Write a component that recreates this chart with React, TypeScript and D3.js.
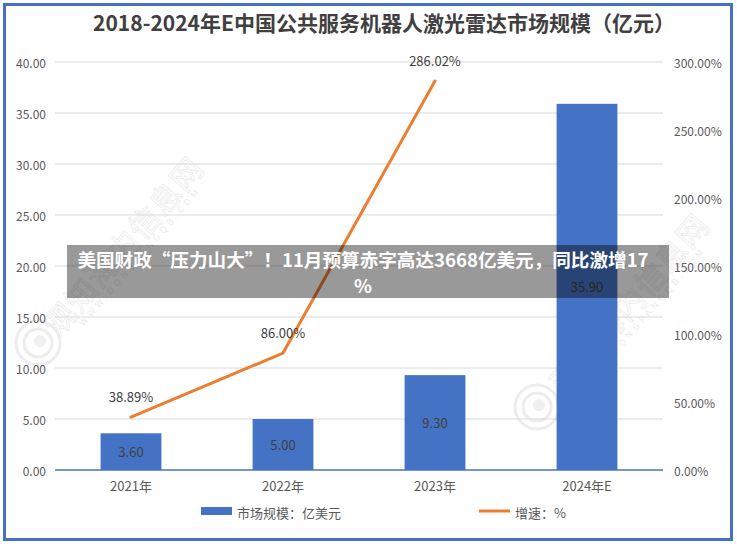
import React from 'react';
import * as d3 from 'd3';

const categories = ['2021年', '2022年', '2023年', '2024年E'];
const marketSize = [3.6, 5.0, 9.3, 35.9];
const growthCategories = ['2021年', '2022年', '2023年'];
const growthRate = [38.89, 86.0, 286.02];
const leftTicks = [0, 5, 10, 15, 20, 25, 30, 35, 40];
const rightTicks = [0, 50, 100, 150, 200, 250, 300];
const title = '2018-2024年E中国公共服务机器人激光雷达市场规模（亿元）';
const legendLabels = ['市场规模：亿美元', '增速：%'];
const bannerLines = ['美国财政“压力山大”！11月预算赤字高达3668亿美元，同比激增17', '%'];
const watermarkText = '观知海内信息网';
const watermarkUrl = 'WWW.DONGFANGQB.COM';

const W = 737;
const H = 544;
const FONT = '"Noto Sans CJK SC", "Noto Sans", sans-serif';
const BLUE = '#4472c4';
const ORANGE = '#ed7d31';
const TICK = '#595959';

export default function App() {
  const x = d3.scaleBand<string>().domain(categories).range([55, 663]).paddingInner(0.6).paddingOuter(0.3);
  const cx = (c: string) => (x(c) as number) + x.bandwidth() / 2;
  const yL = d3.scaleLinear().domain([0, 40]).range([470, 62]);
  const yR = d3.scaleLinear().domain([0, 300]).range([470, 62]);
  const line = d3
    .line<number>()
    .x((_, i) => cx(growthCategories[i]))
    .y((d) => yR(d));

  const watermarks = [
    { tx: 122, ty: 245, sx: 140, sy: 256, lx: 38, ly: 343 },
    { tx: 628, ty: 302, sx: 645, sy: 316, lx: 537, ly: 407 },
  ];

  return (
    <svg
      width={W}
      height={H}
      style={{ position: 'fixed', left: 0, top: 0, background: '#fff', fontFamily: FONT }}
    >
      <rect x={0} y={0} width={W} height={H} fill="#fff" />
      {/* watermarks */}
      {watermarks.map((w, i) => (
        <g key={'wm' + i} opacity={0.3}>
          <text
            transform={`translate(${w.tx},${w.ty}) rotate(-49)`}
            textAnchor="middle"
            dominantBaseline="central"
            fontSize={31}
            fill="none"
            stroke="#bdbdbd"
            strokeWidth={0.8}
            letterSpacing={1}
          >
            {watermarkText}
          </text>
          <text
            transform={`translate(${w.sx},${w.sy}) rotate(-49)`}
            textAnchor="middle"
            dominantBaseline="central"
            fontSize={9}
            fill="#bdbdbd"
            letterSpacing={4}
          >
            {watermarkUrl}
          </text>
          <circle cx={w.lx} cy={w.ly} r={22} fill="none" stroke="#c4c4c4" strokeWidth={3} />
          <circle cx={w.lx} cy={w.ly} r={14} fill="none" stroke="#c4c4c4" strokeWidth={3} />
          <circle cx={w.lx + 2} cy={w.ly - 2} r={6} fill="#cfcfcf" />
        </g>
      ))}

      {/* title */}
      <text x={384} y={22} textAnchor="middle" dominantBaseline="central" fontSize={21} fontWeight="bold" fill="#404040">
        {title}
      </text>

      {/* gridlines */}
      {leftTicks.map((t) =>
        t === 0 ? null : (
          <line key={'g' + t} x1={55} x2={663} y1={yL(t)} y2={yL(t)} stroke="#d9d9d9" strokeWidth={1} />
        )
      )}

      {/* left ticks */}
      {leftTicks.map((t) => (
        <text key={'l' + t} x={46} y={yL(t)} textAnchor="end" dominantBaseline="central" fontSize={12} fill={TICK}>
          {t.toFixed(2)}
        </text>
      ))}
      {/* right ticks */}
      {rightTicks.map((t) => (
        <text key={'r' + t} x={674} y={yR(t)} textAnchor="start" dominantBaseline="central" fontSize={12} fill={TICK}>
          {t.toFixed(2) + '%'}
        </text>
      ))}

      {/* bars */}
      {categories.map((c, i) => (
        <rect
          key={'b' + c}
          x={x(c)}
          y={yL(marketSize[i])}
          width={x.bandwidth()}
          height={yL(0) - yL(marketSize[i])}
          fill={BLUE}
        />
      ))}
      {categories.map((c, i) => (
        <text
          key={'bl' + c}
          x={cx(c)}
          y={(yL(marketSize[i]) + yL(0)) / 2}
          textAnchor="middle"
          dominantBaseline="central"
          fontSize={13}
          fill="#404040"
        >
          {marketSize[i].toFixed(2)}
        </text>
      ))}

      {/* baseline */}
      <line x1={55} x2={663} y1={yL(0)} y2={yL(0)} stroke={BLUE} strokeWidth={1.5} />

      {/* line */}
      <path d={line(growthRate) || ''} fill="none" stroke={ORANGE} strokeWidth={3} strokeLinecap="round" />
      {growthCategories.map((c, i) => (
        <text
          key={'ll' + c}
          x={cx(c)}
          y={yR(growthRate[i]) - 21}
          textAnchor="middle"
          dominantBaseline="central"
          fontSize={13}
          fill="#404040"
        >
          {growthRate[i].toFixed(2) + '%'}
        </text>
      ))}

      {/* x labels */}
      {categories.map((c) => (
        <text key={'x' + c} x={cx(c)} y={485} textAnchor="middle" dominantBaseline="central" fontSize={13} fill={TICK}>
          {c}
        </text>
      ))}

      {/* legend */}
      <rect x={201} y={507} width={31} height={8} fill={BLUE} />
      <text x={237} y={512} dominantBaseline="central" fontSize={13} fill={TICK}>
        {legendLabels[0]}
      </text>
      <line x1={479} x2={510} y1={511} y2={511} stroke={ORANGE} strokeWidth={3} />
      <text x={515} y={512} dominantBaseline="central" fontSize={13} fill={TICK}>
        {legendLabels[1]}
      </text>

      {/* banner overlay */}
      <rect x={67} y={245} width={602} height={53} fill="#000" opacity={0.4} />
      {bannerLines.map((t, i) => (
        <text
          key={'bn' + i}
          x={363}
          y={258.5 + i * 25.5}
          textAnchor="middle"
          dominantBaseline="central"
          fontSize={18.6}
          fontWeight="bold"
          fill="#fff"
        >
          {t}
        </text>
      ))}

      {/* frame */}
      <rect x={4.5} y={4.5} width={727} height={535} fill="none" stroke={BLUE} strokeWidth={3} />
    </svg>
  );
}
